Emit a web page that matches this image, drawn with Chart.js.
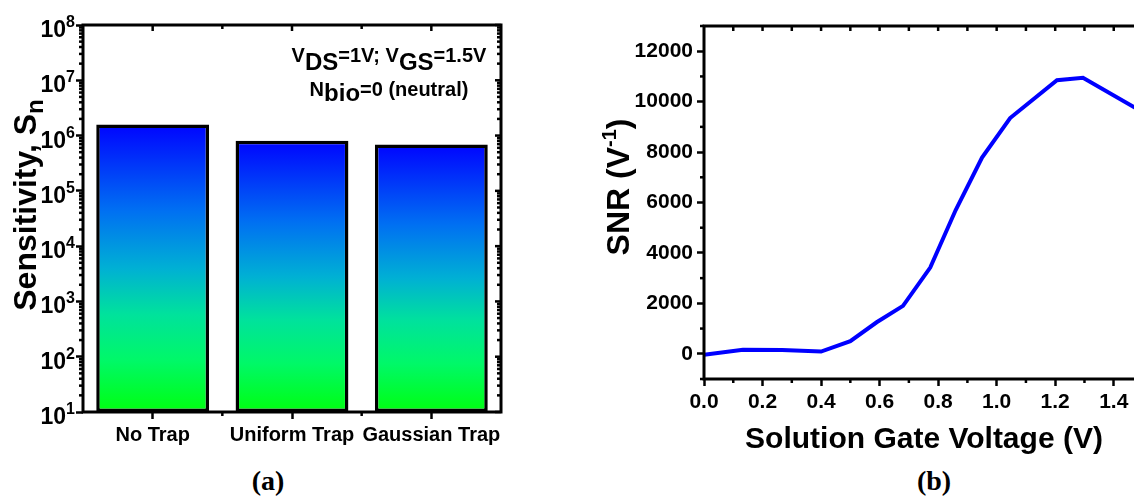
<!DOCTYPE html>
<html>
<head>
<meta charset="utf-8">
<script src="https://cdn.jsdelivr.net/npm/chart.js@4.4.1/dist/chart.umd.min.js"></script>
<style>
  html, body { margin: 0; padding: 0; background: #fff; overflow: hidden; width: 1134px; height: 501px; }
  #cA { position: absolute; left: 0; top: 0; }
  #cB { position: absolute; left: 560px; top: 0; }
  .panel { position: absolute; top: 467px; font: bold 28px "Liberation Serif"; line-height: 28px; transform: translateX(-50%); }
</style>
</head>
<body>
<canvas id="cA" width="520" height="460"></canvas>
<canvas id="cB" width="600" height="460"></canvas>
<div class="panel" style="left:268px">(a)</div>
<div class="panel" style="left:934px">(b)</div>
<script>
// ---- data: panel (a)
const categories = ['No Trap', 'Uniform Trap', 'Gaussian Trap'];
const sensitivity = [1.58e6, 8.1e5, 6.9e5];
const sensExponents = [1, 2, 3, 4, 5, 6, 7, 8];

// ---- data: panel (b)
const gateVoltage = [0, 0.133, 0.267, 0.4, 0.5, 0.59, 0.68, 0.773, 0.86, 0.95, 1.046, 1.206, 1.295, 1.5];
const snr = [-40, 160, 150, 90, 500, 1250, 1900, 3420, 5700, 7780, 9350, 10850, 10950, 9580];
const voltTicks = [0, 0.2, 0.4, 0.6, 0.8, 1.0, 1.2, 1.4];
const snrTicks = [0, 2000, 4000, 6000, 8000, 10000, 12000];

const FONT = '"Liberation Sans", Arial, sans-serif';

// text with sub/superscript pieces; align 'center' or 'right', optionally rotated
function richText(ctx, parts, x, y, rotate, align) {
    ctx.save();
    ctx.translate(x, y);
    if (rotate) ctx.rotate(-Math.PI / 2);
    let w = 0;
    parts.forEach(p => {
        ctx.font = `bold ${p.size}px ${FONT}`;
        p.w = ctx.measureText(p.t).width;
        w += p.w;
    });
    let cx = align === 'right' ? -w : -w / 2;
    ctx.fillStyle = '#000';
    ctx.textBaseline = 'alphabetic';
    parts.forEach(p => {
        ctx.font = `bold ${p.size}px ${FONT}`;
        ctx.fillText(p.t, cx, p.dy || 0);
        cx += p.w;
    });
    ctx.restore();
}

function tick(ctx, x1, y1, x2, y2) {
    ctx.beginPath();
    ctx.moveTo(x1, y1);
    ctx.lineTo(x2, y2);
    ctx.stroke();
}

const axisGrid = { drawOnChartArea: false, tickLength: 7, tickWidth: 2.5, tickColor: '#000' };

// ---- panel (a): bars on log axis
const framePluginA = {
    id: 'frameA',
    afterDraw(chart) {
        const { ctx, chartArea: a, scales } = chart;
        ctx.save();
        ctx.strokeStyle = '#000';
        ctx.lineWidth = 3;
        ctx.strokeRect(a.left, a.top, a.right - a.left, a.bottom - a.top);
        ctx.lineWidth = 2.5;
        // x: centers and boundaries
        categories.forEach((c, i) => {
            const x = scales.x.getPixelForValue(i);
            tick(ctx, x, a.top, x, a.top + 6);
            if (i < categories.length - 1) {
                const xb = (x + scales.x.getPixelForValue(i + 1)) / 2;
                tick(ctx, xb, a.bottom, xb, a.bottom + 4);
                tick(ctx, xb, a.top, xb, a.top + 4);
            }
        });
        // y: labels 10^n, majors on the right, minors both sides
        sensExponents.forEach(e => {
            const y = scales.y.getPixelForValue(10 ** e);
            richText(ctx, [{ t: '10', size: 23, dy: 12 }, { t: String(e), size: 16, dy: 2 }], 75, y, false, 'right');
            tick(ctx, a.right, y, a.right - 6, y);
            if (e === sensExponents[sensExponents.length - 1]) return;
            for (let k = 2; k <= 9; k++) {
                const ym = scales.y.getPixelForValue(k * 10 ** e);
                tick(ctx, a.left, ym, a.left - 4, ym);
                tick(ctx, a.right, ym, a.right - 4, ym);
            }
        });
        // titles and note
        richText(ctx, [{ t: 'Sensitivity, S', size: 32 }, { t: 'n', size: 24, dy: 7 }], 36, 205, true);
        richText(ctx, [
            { t: 'V', size: 20 }, { t: 'DS', size: 24, dy: 8 }, { t: '=1V; ', size: 20 },
            { t: 'V', size: 20 }, { t: 'GS', size: 24, dy: 8 }, { t: '=1.5V', size: 20 }
        ], 389, 62, false);
        richText(ctx, [
            { t: 'N', size: 20 }, { t: 'bio', size: 24, dy: 5 }, { t: '=0 (neutral)', size: 20 }
        ], 389, 96, false);
        ctx.restore();
    }
};

new Chart(document.getElementById('cA'), {
    type: 'bar',
    data: {
        labels: categories,
        datasets: [{
            data: sensitivity,
            borderColor: '#000',
            borderWidth: 3.5,
            borderSkipped: false,
            barPercentage: 0.81,
            categoryPercentage: 1,
            backgroundColor(c) {
                const chart = c.chart;
                const a = chart.chartArea;
                if (!a) return '#0000ff';
                const top = chart.scales.y.getPixelForValue(c.raw);
                const g = chart.ctx.createLinearGradient(0, top, 0, a.bottom);
                g.addColorStop(0, '#0004ff');
                g.addColorStop(0.3, '#0070f2');
                g.addColorStop(0.5, '#00b0d4');
                g.addColorStop(0.66, '#00e29c');
                g.addColorStop(0.82, '#00f868');
                g.addColorStop(1, '#00ff10');
                return g;
            }
        }]
    },
    options: {
        responsive: false,
        animation: false,
        layout: { padding: { left: 0, top: 25, right: 19, bottom: 0 } },
        plugins: { legend: { display: false }, tooltip: { enabled: false } },
        scales: {
            x: {
                grid: { ...axisGrid, offset: false },
                border: { display: false },
                ticks: { color: '#000', font: { family: FONT, size: 20, weight: 'bold' }, maxRotation: 0, autoSkip: false, padding: 4 },
                afterFit(s) { s.height = 48; }
            },
            y: {
                type: 'logarithmic',
                min: 10,
                max: 1e8,
                grid: axisGrid,
                border: { display: false },
                afterBuildTicks(s) { s.ticks = sensExponents.map(e => ({ value: 10 ** e })); },
                ticks: { display: false },
                afterFit(s) { s.width = 83; }
            }
        }
    },
    plugins: [framePluginA]
});

// ---- panel (b): SNR line
const framePluginB = {
    id: 'frameB',
    afterDraw(chart) {
        const { ctx, chartArea: a, scales } = chart;
        ctx.save();
        ctx.strokeStyle = '#000';
        ctx.lineWidth = 3;
        ctx.strokeRect(a.left, a.top, a.right - a.left, a.bottom - a.top);
        ctx.lineWidth = 2.5;
        for (let v = 0.1; v < 1.5; v += 0.1) {
            const x = scales.x.getPixelForValue(v);
            tick(ctx, x, a.top, x, a.top + 5);
        }
        for (let v = 0.1; v < 1.5; v += 0.2) {
            const x = scales.x.getPixelForValue(v);
            tick(ctx, x, a.bottom, x, a.bottom + 4);
        }
        for (let v = -1000; v <= 13000; v += 2000) {
            const y = scales.y.getPixelForValue(v);
            tick(ctx, a.left, y, a.left - 4, y);
        }
        richText(ctx, [{ t: 'SNR (V', size: 32 }, { t: '-1', size: 20, dy: -13 }, { t: ')', size: 32 }], 629 - 560, 187, true);
        richText(ctx, [{ t: 'Solution Gate Voltage (V)', size: 30 }], 924 - 560, 448, false);
        ctx.restore();
    }
};

new Chart(document.getElementById('cB'), {
    type: 'line',
    data: {
        datasets: [{
            data: gateVoltage.map((v, i) => ({ x: v, y: snr[i] })),
            borderColor: '#0000ff',
            borderWidth: 4,
            pointRadius: 0,
            tension: 0,
            fill: false
        }]
    },
    options: {
        responsive: false,
        animation: false,
        layout: { padding: { left: 0, top: 26, right: 17, bottom: 0 } },
        plugins: { legend: { display: false }, tooltip: { enabled: false } },
        scales: {
            x: {
                type: 'linear',
                min: 0,
                max: 1.5,
                grid: axisGrid,
                border: { display: false },
                afterBuildTicks(s) { s.ticks = voltTicks.map(v => ({ value: v })); },
                ticks: { color: '#000', font: { family: FONT, size: 21, weight: 'bold' }, maxRotation: 0, padding: 4, callback: v => v.toFixed(1) },
                afterFit(s) { s.height = 81; }
            },
            y: {
                min: -1000,
                max: 13000,
                grid: axisGrid,
                border: { display: false },
                afterBuildTicks(s) { s.ticks = snrTicks.map(v => ({ value: v })); },
                ticks: { color: '#000', font: { family: FONT, size: 21, weight: 'bold' }, padding: 4, callback: v => String(v) },
                afterFit(s) { s.width = 144; }
            }
        }
    },
    plugins: [framePluginB]
});
</script>
</body>
</html>
